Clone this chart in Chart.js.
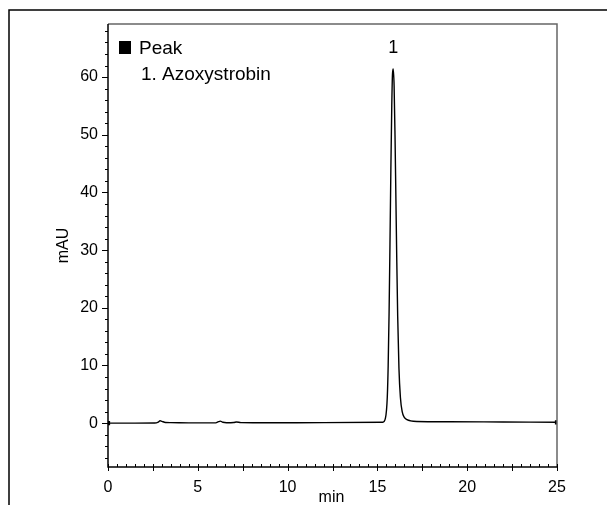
<!DOCTYPE html>
<html>
<head>
<meta charset="utf-8">
<script src="https://cdn.jsdelivr.net/npm/chart.js@4/dist/chart.umd.min.js"></script>
<style>
html,body{margin:0;padding:0;background:#fff;}
#wrap{position:relative;width:607px;height:505px;}
canvas{display:block;}
</style>
</head>
<body>
<div id="wrap"><canvas id="c" width="607" height="505"></canvas></div>
<script>
// ---- data ----
const times  = [0, 1.5, 2.6, 2.8, 2.9, 3.0, 3.2, 3.5, 4.5, 6.0, 6.15, 6.25, 6.4, 6.6, 7.0, 7.15, 7.4, 9, 12, 15.3, 15.45, 15.55, 15.6, 15.65, 15.7, 15.75, 15.8, 15.84, 15.88, 15.93, 15.98, 16.03, 16.08, 16.13, 16.2, 16.28, 16.38, 16.5, 16.65, 16.85, 17.2, 19, 22, 25];
const signal = [0, 0, 0.02, 0.2, 0.42, 0.32, 0.12, 0.1, 0.05, 0.05, 0.25, 0.35, 0.15, 0.08, 0.12, 0.2, 0.1, 0.06, 0.1, 0.15, 0.9, 4.5, 10, 19, 31, 44, 55, 60.5, 61.4, 58.5, 50, 39, 28, 18.5, 9.5, 4.5, 2.0, 1.0, 0.6, 0.4, 0.3, 0.25, 0.2, 0.15];
const xTicks = [0, 5, 10, 15, 20, 25];
const yTicks = [0, 10, 20, 30, 40, 50, 60];
const peakLabels = ["1"];
const peakTimes = [15.88];
const legendTitle = "Peak";
const legendItems = ["1. Azoxystrobin"];
const xTitle = "min";
const yTitle = "mAU";

const FONT = "'Liberation Sans', Arial, sans-serif";

const decor = {
  id: 'decor',
  afterDraw(chart) {
    const ctx = chart.ctx;
    const a = chart.chartArea;
    const xs = chart.scales.x, ys = chart.scales.y;
    ctx.save();
    // outer frame (top & left)
    ctx.strokeStyle = '#000';
    ctx.lineWidth = 1.5;
    ctx.beginPath();
    ctx.moveTo(9, 505); ctx.lineTo(9, 10); ctx.lineTo(607, 10);
    ctx.stroke();
    // plot frame
    ctx.lineWidth = 1.5;
    ctx.strokeStyle = '#666';
    ctx.beginPath();
    ctx.moveTo(a.left, a.top); ctx.lineTo(a.right, a.top); ctx.lineTo(a.right, a.bottom);
    ctx.stroke();
    ctx.strokeStyle = '#000';
    ctx.beginPath();
    ctx.moveTo(a.left, a.top); ctx.lineTo(a.left, a.bottom); ctx.lineTo(a.right, a.bottom);
    ctx.stroke();
    // x ticks
    ctx.lineWidth = 1;
    for (let i = 0; i <= 50; i++) {
      const v = i * 0.5;
      const px = Math.round(xs.getPixelForValue(v)) + 0.5;
      ctx.beginPath();
      if (i % 5 === 0) { ctx.moveTo(px, a.bottom - 3); ctx.lineTo(px, a.bottom + 4); }
      else { ctx.moveTo(px, a.bottom); ctx.lineTo(px, a.bottom - 3); }
      ctx.stroke();
    }
    // y ticks
    for (let v = -6; v <= 68; v += 2) {
      const py = Math.round(ys.getPixelForValue(v)) + 0.5;
      ctx.beginPath();
      if (v % 10 === 0) { ctx.moveTo(a.left - 6, py); ctx.lineTo(a.left, py); }
      else { ctx.moveTo(a.left - 3, py); ctx.lineTo(a.left, py); }
      ctx.stroke();
    }
    // legend
    ctx.fillStyle = '#000';
    ctx.fillRect(119, 41, 12, 13);
    ctx.font = '19px ' + FONT;
    ctx.textAlign = 'left';
    ctx.textBaseline = 'alphabetic';
    ctx.fillText(legendTitle, 139, 54);
    legendItems.forEach((t, i) => ctx.fillText(t, 141, 80 + i * 26));
    // peak labels
    ctx.font = '18px ' + FONT;
    ctx.textAlign = 'center';
    peakLabels.forEach((t, i) => ctx.fillText(t, xs.getPixelForValue(peakTimes[i]), 53));
    // axis titles
    ctx.font = '16px ' + FONT;
    ctx.fillText(xTitle, (a.left + a.right) / 2 - 1, 502);
    ctx.translate(68, (a.top + a.bottom) / 2);
    ctx.rotate(-Math.PI / 2);
    ctx.textBaseline = 'alphabetic';
    ctx.fillText(yTitle, 0, 0);
    ctx.restore();
  }
};

const pts = times.map((t, i) => ({x: t, y: signal[i]}));

new Chart(document.getElementById('c'), {
  type: 'line',
  data: {
    datasets: [{
      data: pts,
      borderColor: '#000',
      borderWidth: 1.4,
      cubicInterpolationMode: 'monotone',
      pointStyle: 'rect',
      pointBackgroundColor: '#000',
      pointBorderColor: '#000',
      pointRadius: (c) => (c.dataIndex === 0 || c.dataIndex === pts.length - 1) ? 2 : 0,
      fill: false
    }]
  },
  options: {
    responsive: false,
    animation: false,
    devicePixelRatio: 1,
    layout: {padding: {top: 24, right: 50, left: 0, bottom: 0}},
    plugins: {legend: {display: false}, tooltip: {enabled: false}},
    scales: {
      x: {
        type: 'linear', min: 0, max: 25,
        afterBuildTicks: s => { s.ticks = xTicks.map(v => ({value: v})); },
        afterFit: s => { s.height = 38; },
        grid: {display: false, drawTicks: false},
        border: {display: false},
        ticks: {color: '#000', font: {size: 16, family: FONT}, padding: 11, maxRotation: 0, autoSkip: false}
      },
      y: {
        type: 'linear', min: -7.6, max: 69.2,
        afterBuildTicks: s => { s.ticks = yTicks.map(v => ({value: v})); },
        afterFit: s => { s.width = 108; },
        grid: {display: false, drawTicks: false},
        border: {display: false},
        ticks: {color: '#000', font: {size: 16, family: FONT}, padding: 10, autoSkip: false}
      }
    }
  },
  plugins: [decor]
});
</script>
</body>
</html>
